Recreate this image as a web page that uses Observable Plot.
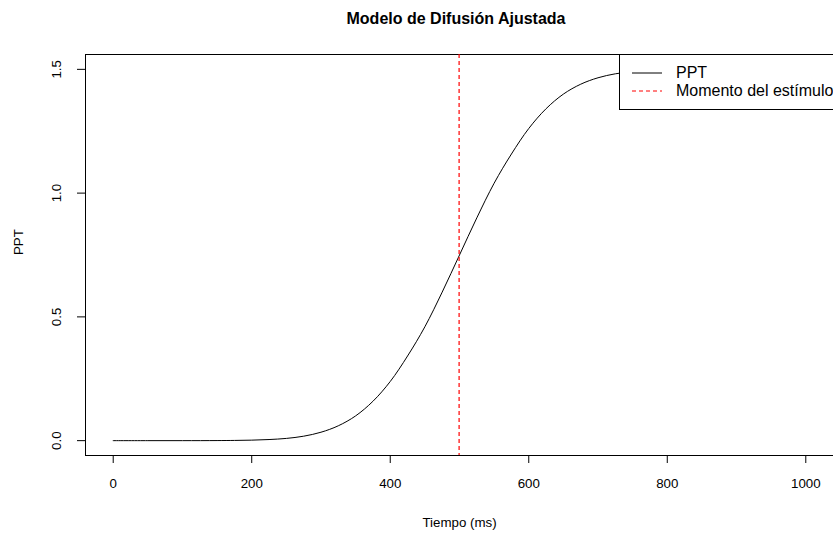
<!DOCTYPE html>
<html>
<head>
<meta charset="utf-8">
<script src="https://cdn.jsdelivr.net/npm/d3@7"></script>
<script src="https://cdn.jsdelivr.net/npm/@observablehq/plot@0.6"></script>
<style>
  html, body { margin: 0; padding: 0; background: #fff; }
  #wrap { position: relative; width: 833px; height: 533px; overflow: hidden; font-family: "Liberation Sans", Arial, sans-serif; }
  #title { position: absolute; left: 0; width: 912px; top: 10px; text-align: center; font-weight: bold; font-size: 16px; color: #000; }
  #legend { position: absolute; left: 619px; top: 54px; width: 220px; height: 56px; background: #fff; border: 1px solid #000; box-sizing: border-box; font-size: 16px; color: #000; }
  .row { position: absolute; left: 12px; height: 18px; display: flex; align-items: center; white-space: nowrap; }
  .row svg { margin-right: 14px; }
</style>
</head>
<body>
<div id="wrap">
  <div id="chart"></div>
  <div id="title">Modelo de Difusión Ajustada</div>
  <div id="legend">
    <div class="row" style="top:8.5px"><svg width="30" height="4"><line x1="0" x2="30" y1="2" y2="2" stroke="#000" stroke-width="1"/></svg><span>PPT</span></div>
    <div class="row" style="top:27px"><svg width="30" height="4"><line x1="0" x2="30" y1="2" y2="2" stroke="#ff0000" stroke-width="1" stroke-dasharray="4,3"/></svg><span>Momento del estímulo</span></div>
  </div>
</div>
<script>
// Data
const tiempo = [0, 50, 100, 150, 175, 200, 225, 250, 275, 300, 325, 350, 375, 400, 425, 450, 475, 500, 525, 550, 575, 600, 625, 650, 675, 700, 725, 750, 775, 800, 850, 900, 950, 1000];
const ppt    = [0, 0, 0, 0.0003, 0.0009, 0.002, 0.0045, 0.009, 0.018, 0.034, 0.06, 0.10, 0.159, 0.239, 0.342, 0.46, 0.60, 0.75, 0.90, 1.04, 1.158, 1.261, 1.341, 1.40, 1.44, 1.466, 1.482, 1.491, 1.496, 1.498, 1.4995, 1.5, 1.5, 1.5];
const estimulo = [500];
const xTicks = [0, 200, 400, 600, 800, 1000];
const yTicks = [0, 0.5, 1.0, 1.5];

const data = tiempo.map((t, i) => ({t, v: ppt[i]}));

const chart = Plot.plot({
  width: 833,
  height: 533,
  marginLeft: 85,
  marginRight: 0,
  marginTop: 54,
  marginBottom: 78,
  style: {fontFamily: "'Liberation Sans', Arial, sans-serif", fontSize: "13.3px", color: "#000", background: "#fff"},
  x: {domain: [-40, 1040]},
  y: {domain: [-0.06, 1.56]},
  marks: [
    Plot.frame({stroke: "#000", strokeWidth: 1}),
    Plot.axisX({ticks: xTicks, tickSize: 8, tickFormat: () => "", label: null, stroke: "#000"}),
    Plot.axisY({ticks: yTicks, tickSize: 8, tickFormat: () => "", label: null, stroke: "#000"}),
    Plot.text(xTicks, {x: d => d, frameAnchor: "bottom", dy: 28, lineAnchor: "middle", text: d => String(d), fontSize: 13.3, fill: "#000"}),
    Plot.text(yTicks, {y: d => d, frameAnchor: "left", dx: -29, rotate: -90, textAnchor: "middle", lineAnchor: "middle", text: d => d.toFixed(1), fontSize: 13.3, fill: "#000"}),
    Plot.text(["Tiempo (ms)"], {frameAnchor: "bottom", dy: 67, lineAnchor: "middle", text: d => d, fontSize: 13.3, fill: "#000"}),
    Plot.text(["PPT"], {frameAnchor: "left", dx: -67, rotate: -90, lineAnchor: "middle", text: d => d, fontSize: 13.3, fill: "#000"}),
    Plot.line(data, {x: "t", y: "v", stroke: "#000", strokeWidth: 1, curve: "catmull-rom"}),
    Plot.ruleX(estimulo, {x: d => d, stroke: "#ff0000", strokeWidth: 1.2, dx: -0.4, strokeDasharray: "4,3"})
  ]
});
document.getElementById("chart").appendChild(chart);
</script>
</body>
</html>
